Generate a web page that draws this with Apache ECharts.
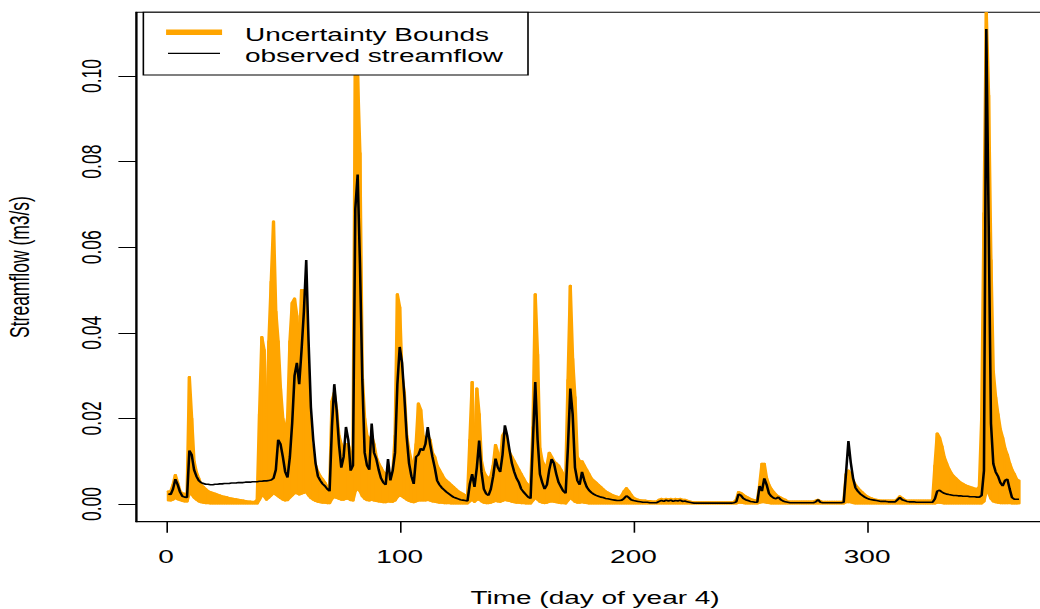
<!DOCTYPE html>
<html>
<head>
<meta charset="utf-8">
<script src="https://cdn.jsdelivr.net/npm/echarts@6/dist/echarts.min.js"></script>
<style>
  html, body { margin: 0; padding: 0; background: #fff; overflow: hidden; }
  /* the plot is laid out on a narrower canvas and widened, like a resized R device */
  #chart { width: 650px; height: 609px; transform: scaleX(1.6); transform-origin: 0 0; }
</style>
</head>
<body>
<div id="chart"></div>
<script>
// tick positions
const xTicks = [0, 100, 200, 300];
const yTicks = [0, 0.02, 0.04, 0.06, 0.08, 0.10];

// daily observed streamflow (m3/s), days 1..365
const observed = [
  0.0024,0.0022,0.0035,0.0058,0.0045,0.0028,0.0018,0.0016,0.0015,0.0125,
  0.0115,0.0080,0.0065,0.0055,0.0050,0.0048,0.0046,0.0046,0.0045,0.0045,
  0.0046,0.0046,0.0047,0.0047,0.0048,0.0048,0.0048,0.0049,0.0049,0.0049,
  0.0050,0.0050,0.0050,0.0051,0.0051,0.0051,0.0052,0.0052,0.0052,0.0053,
  0.0053,0.0054,0.0054,0.0055,0.0056,0.0060,0.0080,0.0150,0.0140,0.0110,
  0.0075,0.0062,0.0110,0.0190,0.0300,0.0330,0.0280,0.0360,0.0450,0.0570,
  0.0380,0.0226,0.0150,0.0095,0.0065,0.0055,0.0047,0.0042,0.0035,0.0030,
  0.0180,0.0280,0.0220,0.0140,0.0085,0.0110,0.0180,0.0150,0.0078,0.0090,
  0.0690,0.0770,0.0560,0.0290,0.0120,0.0090,0.0080,0.0188,0.0120,0.0105,
  0.0080,0.0060,0.0050,0.0045,0.0105,0.0055,0.0078,0.0120,0.0280,0.0367,
  0.0330,0.0250,0.0156,0.0095,0.0065,0.0047,0.0110,0.0115,0.0130,0.0125,
  0.0140,0.0180,0.0140,0.0110,0.0085,0.0055,0.0045,0.0038,0.0033,0.0028,
  0.0024,0.0020,0.0016,0.0014,0.0012,0.0010,0.0009,0.0008,0.0007,0.0047,
  0.0070,0.0040,0.0085,0.0148,0.0075,0.0035,0.0024,0.0020,0.0035,0.0065,
  0.0106,0.0085,0.0075,0.0115,0.0184,0.0160,0.0125,0.0095,0.0075,0.0060,
  0.0050,0.0035,0.0028,0.0022,0.0016,0.0013,0.0148,0.0285,0.0150,0.0070,
  0.0050,0.0035,0.0045,0.0080,0.0105,0.0095,0.0070,0.0050,0.0040,0.0030,
  0.0025,0.0135,0.0270,0.0210,0.0085,0.0055,0.0045,0.0075,0.0055,0.0040,
  0.0032,0.0027,0.0023,0.0020,0.0018,0.0016,0.0015,0.0013,0.0012,0.0011,
  0.0010,0.0009,0.0008,0.0008,0.0009,0.0013,0.0019,0.0015,0.0010,0.0008,
  0.0007,0.0006,0.0005,0.0004,0.0004,0.0004,0.0003,0.0003,0.0003,0.0003,
  0.0006,0.0008,0.0006,0.0009,0.0007,0.0009,0.0006,0.0008,0.0007,0.0009,
  0.0006,0.0007,0.0005,0.0004,0.0003,0.0002,0.0002,0.0002,0.0002,0.0002,
  0.0002,0.0002,0.0002,0.0002,0.0002,0.0002,0.0002,0.0002,0.0002,0.0002,
  0.0002,0.0002,0.0003,0.0005,0.0023,0.0020,0.0013,0.0010,0.0008,0.0006,
  0.0005,0.0004,0.0004,0.0042,0.0030,0.0060,0.0045,0.0025,0.0018,0.0014,
  0.0012,0.0016,0.0010,0.0007,0.0005,0.0004,0.0003,0.0003,0.0003,0.0003,
  0.0003,0.0003,0.0003,0.0003,0.0003,0.0003,0.0003,0.0005,0.0010,0.0004,
  0.0003,0.0003,0.0003,0.0003,0.0003,0.0003,0.0003,0.0003,0.0003,0.0004,
  0.0074,0.0147,0.0097,0.0060,0.0038,0.0030,0.0024,0.0020,0.0016,0.0013,
  0.0011,0.0010,0.0009,0.0008,0.0007,0.0006,0.0006,0.0006,0.0005,0.0005,
  0.0005,0.0005,0.0010,0.0015,0.0010,0.0008,0.0006,0.0005,0.0005,0.0005,
  0.0004,0.0004,0.0004,0.0004,0.0004,0.0004,0.0004,0.0004,0.0012,0.0030,
  0.0032,0.0028,0.0025,0.0023,0.0022,0.0021,0.0020,0.0020,0.0019,0.0019,
  0.0018,0.0018,0.0018,0.0017,0.0017,0.0017,0.0016,0.0016,0.0020,0.0078,
  0.1110,0.0660,0.0188,0.0094,0.0075,0.0065,0.0050,0.0042,0.0055,0.0058,
  0.0035,0.0015,0.0011,0.0011,0.0011
];

// upper edge of the uncertainty band, days 1..365
const upperBound = [
  0.0030,0.0030,0.0045,0.0068,0.0050,0.0030,0.0025,0.0024,0.0024,0.0297,
  0.0200,0.0100,0.0075,0.0060,0.0045,0.0040,0.0035,0.0030,0.0028,0.0026,
  0.0024,0.0022,0.0020,0.0018,0.0017,0.0016,0.0014,0.0013,0.0012,0.0011,
  0.0010,0.0009,0.0008,0.0007,0.0006,0.0006,0.0005,0.0005,0.0010,0.0210,
  0.0390,0.0360,0.0170,0.0380,0.0520,0.0660,0.0450,0.0380,0.0270,0.0200,
  0.0170,0.0200,0.0380,0.0470,0.0480,0.0440,0.0360,0.0500,0.0500,0.0450,
  0.0240,0.0140,0.0110,0.0090,0.0075,0.0065,0.0058,0.0050,0.0040,0.0032,
  0.0240,0.0260,0.0220,0.0160,0.0140,0.0130,0.0140,0.0140,0.0120,0.0120,
  0.1030,0.1000,0.0820,0.0300,0.0200,0.0160,0.0150,0.0160,0.0140,0.0110,
  0.0095,0.0085,0.0075,0.0070,0.0075,0.0072,0.0070,0.0160,0.0490,0.0460,
  0.0300,0.0260,0.0160,0.0125,0.0100,0.0085,0.0140,0.0235,0.0220,0.0160,
  0.0150,0.0160,0.0150,0.0120,0.0110,0.0090,0.0080,0.0070,0.0060,0.0055,
  0.0050,0.0045,0.0040,0.0035,0.0030,0.0027,0.0024,0.0020,0.0017,0.0150,
  0.0285,0.0090,0.0270,0.0210,0.0100,0.0075,0.0065,0.0060,0.0065,0.0090,
  0.0138,0.0120,0.0095,0.0160,0.0170,0.0140,0.0120,0.0110,0.0100,0.0090,
  0.0080,0.0070,0.0060,0.0050,0.0045,0.0040,0.0180,0.0490,0.0350,0.0130,
  0.0100,0.0090,0.0090,0.0120,0.0110,0.0100,0.0095,0.0090,0.0080,0.0070,
  0.0060,0.0290,0.0510,0.0340,0.0250,0.0110,0.0100,0.0100,0.0090,0.0080,
  0.0070,0.0060,0.0055,0.0050,0.0045,0.0040,0.0035,0.0030,0.0027,0.0024,
  0.0021,0.0019,0.0017,0.0015,0.0020,0.0030,0.0037,0.0030,0.0022,0.0015,
  0.0012,0.0010,0.0009,0.0008,0.0008,0.0007,0.0007,0.0006,0.0006,0.0006,
  0.0010,0.0012,0.0010,0.0012,0.0011,0.0012,0.0010,0.0012,0.0011,0.0012,
  0.0010,0.0010,0.0008,0.0006,0.0005,0.0004,0.0004,0.0004,0.0004,0.0004,
  0.0004,0.0004,0.0004,0.0004,0.0004,0.0004,0.0004,0.0004,0.0004,0.0004,
  0.0004,0.0004,0.0005,0.0010,0.0028,0.0026,0.0022,0.0018,0.0015,0.0012,
  0.0010,0.0009,0.0008,0.0045,0.0094,0.0094,0.0060,0.0045,0.0035,0.0028,
  0.0022,0.0018,0.0015,0.0012,0.0010,0.0006,0.0006,0.0006,0.0006,0.0006,
  0.0006,0.0006,0.0006,0.0006,0.0006,0.0006,0.0006,0.0008,0.0010,0.0007,
  0.0005,0.0005,0.0005,0.0005,0.0005,0.0005,0.0005,0.0005,0.0005,0.0005,
  0.0070,0.0078,0.0070,0.0055,0.0045,0.0038,0.0032,0.0027,0.0022,0.0018,
  0.0015,0.0013,0.0011,0.0010,0.0009,0.0008,0.0008,0.0008,0.0008,0.0008,
  0.0008,0.0008,0.0012,0.0018,0.0014,0.0010,0.0008,0.0008,0.0008,0.0008,
  0.0008,0.0008,0.0008,0.0008,0.0008,0.0008,0.0008,0.0008,0.0090,0.0165,
  0.0155,0.0135,0.0110,0.0095,0.0082,0.0072,0.0065,0.0060,0.0055,0.0050,
  0.0047,0.0044,0.0042,0.0040,0.0038,0.0036,0.0035,0.0040,0.0200,0.0680,
  0.1150,0.0955,0.0570,0.0310,0.0250,0.0210,0.0175,0.0155,0.0130,0.0115,
  0.0095,0.0080,0.0070,0.0058,0.0055
];

// lower edge of the uncertainty band, days 1..365
const lowerBound = [
  0.0008,0.0008,0.0010,0.0014,0.0011,0.0009,0.0007,0.0006,0.0006,0.0025,
  0.0022,0.0015,0.0010,0.0006,0.0004,0.0003,0.0002,0.0002,0.0001,0.0001,
  0.0001,0.0001,0.0001,0.0001,0.0001,0.0001,0.0001,0.0001,0.0001,0.0001,
  0.0001,0.0001,0.0001,0.0001,0.0001,0.0001,0.0001,0.0001,0.0001,0.0010,
  0.0020,0.0018,0.0010,0.0015,0.0020,0.0025,0.0022,0.0018,0.0014,0.0010,
  0.0008,0.0009,0.0015,0.0020,0.0025,0.0025,0.0022,0.0024,0.0026,0.0028,
  0.0020,0.0014,0.0010,0.0007,0.0005,0.0004,0.0003,0.0003,0.0002,0.0002,
  0.0012,0.0016,0.0014,0.0012,0.0010,0.0010,0.0012,0.0012,0.0009,0.0008,
  0.0030,0.0035,0.0030,0.0018,0.0012,0.0009,0.0008,0.0010,0.0008,0.0007,
  0.0006,0.0005,0.0004,0.0004,0.0006,0.0005,0.0005,0.0008,0.0016,0.0020,
  0.0018,0.0014,0.0010,0.0007,0.0005,0.0004,0.0006,0.0008,0.0008,0.0008,
  0.0008,0.0009,0.0008,0.0006,0.0005,0.0004,0.0003,0.0003,0.0002,0.0002,
  0.0002,0.0001,0.0001,0.0001,0.0001,0.0001,0.0001,0.0001,0.0001,0.0006,
  0.0010,0.0005,0.0010,0.0010,0.0006,0.0003,0.0002,0.0002,0.0003,0.0005,
  0.0007,0.0006,0.0005,0.0007,0.0009,0.0008,0.0007,0.0005,0.0004,0.0003,
  0.0003,0.0002,0.0002,0.0001,0.0001,0.0001,0.0008,0.0014,0.0010,0.0005,
  0.0003,0.0002,0.0003,0.0005,0.0006,0.0005,0.0004,0.0003,0.0002,0.0002,
  0.0001,0.0008,0.0014,0.0010,0.0005,0.0003,0.0003,0.0004,0.0003,0.0002,
  0.0001,0.0001,0.0001,0.0001,0.0001,0.0001,0.0001,0.0001,0.0001,0.0001,
  0.0001,0.0001,0.0001,0.0001,0.0001,0.0001,0.0001,0.0001,0.0001,0.0001,
  0.0001,0.0001,0.0001,0.0001,0.0001,0.0001,0.0001,0.0001,0.0001,0.0001,
  0.0001,0.0001,0.0001,0.0001,0.0001,0.0001,0.0001,0.0001,0.0001,0.0001,
  0.0001,0.0001,0.0001,0.0001,0.0001,0.0001,0.0001,0.0001,0.0001,0.0001,
  0.0001,0.0001,0.0001,0.0001,0.0001,0.0001,0.0001,0.0001,0.0001,0.0001,
  0.0001,0.0001,0.0001,0.0001,0.0003,0.0003,0.0002,0.0001,0.0001,0.0001,
  0.0001,0.0001,0.0001,0.0003,0.0004,0.0004,0.0003,0.0002,0.0001,0.0001,
  0.0001,0.0001,0.0001,0.0001,0.0001,0.0001,0.0001,0.0001,0.0001,0.0001,
  0.0001,0.0001,0.0001,0.0001,0.0001,0.0001,0.0001,0.0001,0.0001,0.0001,
  0.0001,0.0001,0.0001,0.0001,0.0001,0.0001,0.0001,0.0001,0.0001,0.0001,
  0.0004,0.0004,0.0004,0.0002,0.0001,0.0001,0.0001,0.0001,0.0001,0.0001,
  0.0001,0.0001,0.0001,0.0001,0.0001,0.0001,0.0001,0.0001,0.0001,0.0001,
  0.0001,0.0001,0.0001,0.0001,0.0001,0.0001,0.0001,0.0001,0.0001,0.0001,
  0.0001,0.0001,0.0001,0.0001,0.0001,0.0001,0.0001,0.0001,0.0001,0.0003,
  0.0003,0.0002,0.0001,0.0001,0.0001,0.0001,0.0001,0.0001,0.0001,0.0001,
  0.0001,0.0001,0.0001,0.0001,0.0001,0.0001,0.0001,0.0001,0.0001,0.0006,
  0.0030,0.0025,0.0012,0.0006,0.0004,0.0003,0.0002,0.0002,0.0002,0.0002,
  0.0002,0.0001,0.0001,0.0001,0.0001
];

if (observed.length !== 365 || upperBound.length !== 365 || lowerBound.length !== 365) {
  throw new Error('series length: ' + observed.length + ' / ' + upperBound.length + ' / ' + lowerBound.length);
}

// day numbers 1..365
const days = observed.map((_, i) => i + 1);

const ORANGE = '#FFA500';
const FONT = '"Liberation Sans", Arial, Helvetica, sans-serif';
const FS = 17.5;

// one band segment per day step: [day, lower, upper]
const bandData = days.map((d, i) => [d, lowerBound[i], upperBound[i]]);
const obsData = days.map((d, i) => [d, observed[i]]);

// band segment between day i and day i+1, placed with the axis scales
function renderBand(params, api) {
  const i = params.dataIndex;
  if (i >= days.length - 1) return null;
  const pts = [
    api.coord([days[i], upperBound[i]]),
    api.coord([days[i + 1], upperBound[i + 1]]),
    api.coord([days[i + 1], lowerBound[i + 1]]),
    api.coord([days[i], lowerBound[i]])
  ];
  return {
    type: 'polygon',
    shape: { points: pts },
    style: { fill: ORANGE, stroke: ORANGE, lineWidth: 2, lineJoin: 'round' }
  };
}

const chart = echarts.init(document.getElementById('chart'), null, { renderer: 'svg' });

const legendZ = 100;

chart.setOption({
  animation: false,
  backgroundColor: '#fff',
  grid: {
    left: 85, right: -8.8, top: 12.3, bottom: 87.3,
    outerBoundsMode: 'none', containLabel: false,
    show: true, borderColor: '#000', borderWidth: 1, backgroundColor: 'transparent'
  },
  xAxis: {
    type: 'value', min: -12.84, max: 380,
    axisLine: { onZero: false, lineStyle: { color: '#000', width: 1 } },
    axisTick: { customValues: xTicks, length: 11, lineStyle: { color: '#000', width: 1 } },
    axisLabel: { customValues: xTicks, margin: 26, fontSize: FS, fontFamily: FONT, color: '#000' },
    splitLine: { show: false },
    name: 'Time (day of year 4)', nameLocation: 'middle', nameGap: 67,
    nameTextStyle: { fontSize: FS, fontFamily: FONT, color: '#000' }
  },
  yAxis: {
    type: 'value', min: -0.00414, max: 0.1149,
    axisLine: { show: true, onZero: false, lineStyle: { color: '#000', width: 1 } },
    axisTick: { show: true, customValues: yTicks, length: 11, lineStyle: { color: '#000', width: 1 } },
    axisLabel: {
      customValues: yTicks, rotate: 90, margin: 19, fontSize: FS, fontFamily: FONT, color: '#000',
      formatter: v => v.toFixed(2)
    },
    splitLine: { show: false },
    name: 'Streamflow (m3/s)', nameLocation: 'middle', nameGap: 64, nameRotate: 90,
    nameTextStyle: { fontSize: FS, fontFamily: FONT, color: '#000' }
  },
  series: [
    {
      name: 'Uncertainty Bounds', type: 'custom', data: bandData,
      encode: { x: 0, y: [1, 2] },
      renderItem: renderBand, clip: true, silent: true, z: 2
    },
    {
      name: 'observed streamflow', type: 'line', data: obsData,
      symbol: 'none', silent: true, z: 3,
      lineStyle: { color: '#000', width: 1.6 }
    }
  ],
  graphic: [
    { type: 'rect', z: legendZ, shape: { x: 89.6, y: 12.3, width: 240.4, height: 62.7 },
      style: { fill: '#fff', stroke: '#000', lineWidth: 1 } },
    { type: 'line', z: legendZ + 1, shape: { x1: 103.8, y1: 32.3, x2: 138.8, y2: 32.3 },
      style: { stroke: ORANGE, lineWidth: 5.5 } },
    { type: 'line', z: legendZ + 1, shape: { x1: 105, y1: 53.3, x2: 137.5, y2: 53.3 },
      style: { stroke: '#000', lineWidth: 1.2 } },
    { type: 'text', z: legendZ + 1, x: 153.1, y: 35.5,
      style: { text: 'Uncertainty Bounds', fontSize: FS, fontFamily: FONT, fill: '#000',
               align: 'left', verticalAlign: 'middle' } },
    { type: 'text', z: legendZ + 1, x: 153.1, y: 56.5,
      style: { text: 'observed streamflow', fontSize: FS, fontFamily: FONT, fill: '#000',
               align: 'left', verticalAlign: 'middle' } }
  ]
});
</script>
</body>
</html>
